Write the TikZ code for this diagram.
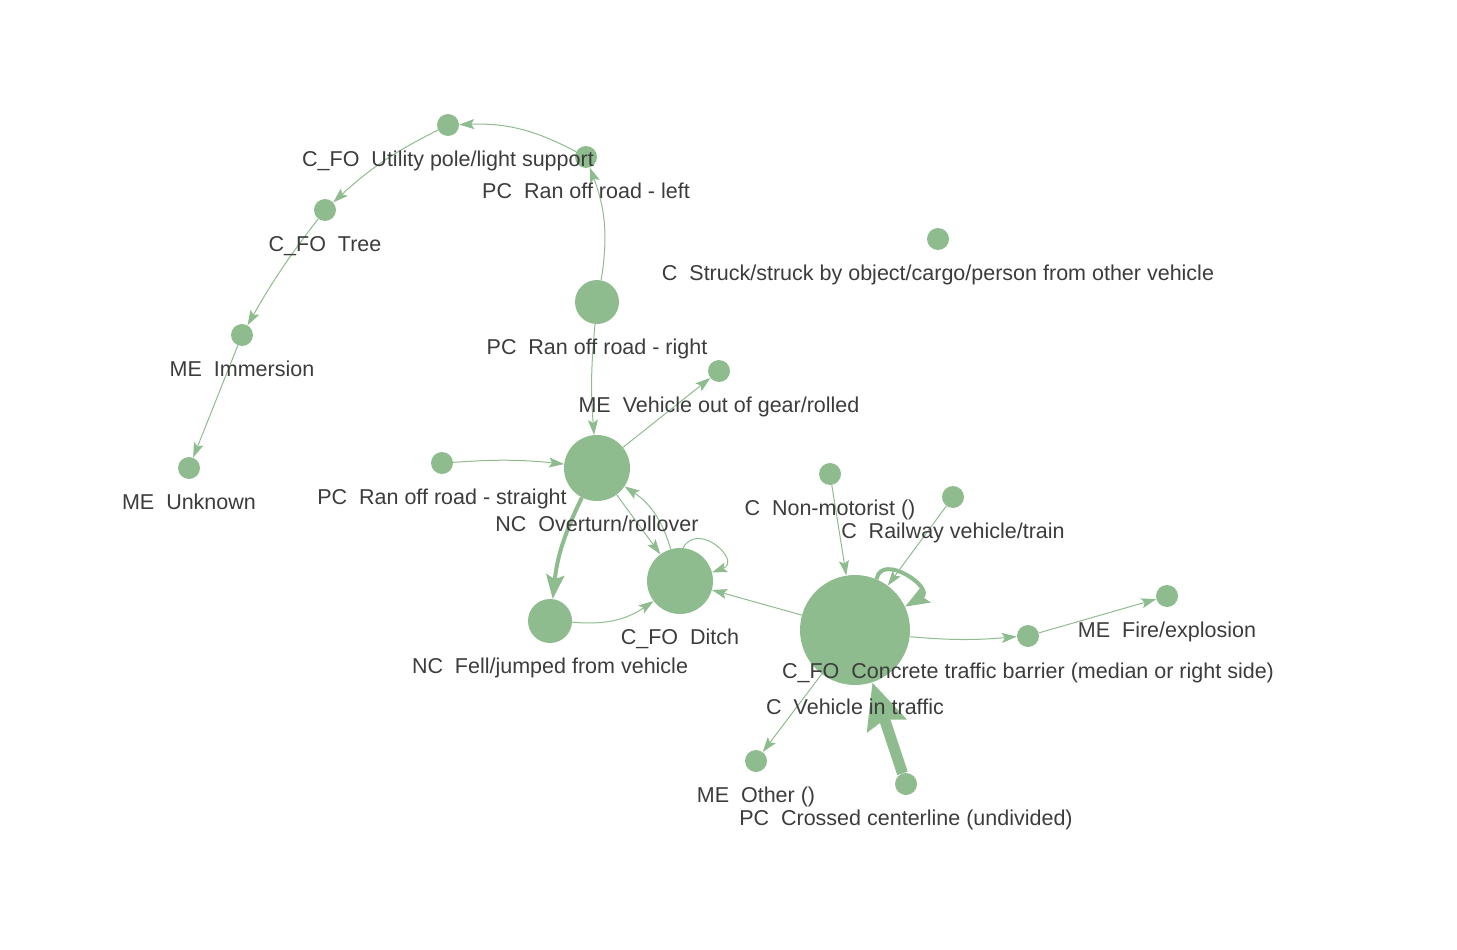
\documentclass[tikz,border=0pt]{standalone}
\usepackage{fontspec}
\setmainfont{Liberation Sans}
\usetikzlibrary{arrows.meta}
\definecolor{ng}{RGB}{143,188,143}
\definecolor{lg}{RGB}{60,60,60}
\tikzset{
  nd/.style={circle,fill=ng,draw=none,inner sep=0pt},
  sm/.style={nd,minimum size=22pt},
  md/.style={nd,minimum size=44pt},
  bg/.style={nd,minimum size=66pt},
  hg/.style={nd,minimum size=110pt},
  lab/.style={anchor=base,inner sep=0pt,text=lg,font=\fontsize{21.5}{26}\selectfont},
  thin/.style={draw=ng,line width=1pt,-{Stealth[length=15pt,width=10pt,inset=3pt]}},
  midw/.style={draw=ng,line width=4pt,-{Stealth[length=24pt,width=18pt,inset=4pt]}},
  thk/.style={draw=ng,line width=11pt,-{Stealth[length=45pt,width=40pt,inset=6pt]}}
}
\begin{document}
\begin{tikzpicture}[x=1pt,y=1pt]
\useasboundingbox (0,0) rectangle (1457,-950);
% nodes
\node[sm] (UP) at (448,-125) {};
\node[sm] (ROL) at (586,-157) {};
\node[sm] (TR) at (325,-210) {};
\node[sm] (IM) at (242,-335) {};
\node[sm] (UN) at (189,-468) {};
\node[md] (ROR) at (597,-302) {};
\node[sm] (VOG) at (719,-371) {};
\node[sm] (STR) at (938,-239) {};
\node[bg] (OV) at (597,-468) {};
\node[sm] (ROS) at (442,-463) {};
\node[md] (FJ) at (550,-621) {};
\node[bg] (DI) at (680,-581) {};
\node[sm] (NM) at (830,-474) {};
\node[sm] (RW) at (953,-497) {};
\node[hg] (VT) at (855,-630) {};
\node[sm] (CB) at (1028,-636) {};
\node[sm] (FE) at (1167,-596) {};
\node[sm] (OT) at (756,-761) {};
\node[sm] (CC) at (906,-784) {};
% edges
\draw[thin] (ROL) to[bend right=15] (UP);
\draw[thin] (UP) to[bend right=8] (TR);
\draw[thin] (TR) to[bend right=4] (IM);
\draw[thin] (IM) -- (UN);
\draw[thin] (ROR) to[bend right=15] (ROL);
\draw[thin] (ROR) to[bend right=5] (OV);
\draw[thin] (OV) -- (VOG);
\draw[thin] (ROS) to[bend left=5] (OV);
\draw[midw] (OV) to[bend right=10] (FJ);
\draw[thin] (OV) -- (DI);
\draw[thin] (DI) to[bend right=20] (OV);
\draw[thin] (FJ) to[bend right=20] (DI);
\draw[thin] (DI.85) .. controls +(60:32) and +(20:32) .. (DI.15);
\draw[thin] (VT) -- (DI);
\draw[thin] (NM) -- (VT);
\draw[thin] (RW) -- (VT);
\draw[midw] (VT.67) .. controls +(80:28) and +(30:36) .. (VT.25);
\draw[thin] (VT) to[bend right=5] (CB);
\draw[thin] (CB) -- (FE);
\draw[thin] (VT) -- (OT);
\draw[thk] (CC) -- (VT);
% labels
\node[lab] (lUP) at (448,-166.5) {C\_FO~~Utility pole/light support};
\node[lab] (lROL) at (586,-198.5) {PC~~Ran off road - left};
\node[lab] (lTR) at (325,-251.5) {C\_FO~~Tree};
\node[lab] (lIM) at (242,-376.5) {ME~~Immersion};
\node[lab] (lUN) at (189,-509.5) {ME~~Unknown};
\node[lab] (lROR) at (597,-354.5) {PC~~Ran off road - right};
\node[lab] (lVOG) at (719,-412.5) {ME~~Vehicle out of gear/rolled};
\node[lab] (lSTR) at (938,-280.5) {C~~Struck/struck by object/cargo/person from other vehicle};
\node[lab] (lOV) at (597,-531.5) {NC~~Overturn/rollover};
\node[lab] (lROS) at (442,-504.5) {PC~~Ran off road - straight};
\node[lab] (lFJ) at (550,-673.5) {NC~~Fell/jumped from vehicle};
\node[lab] (lDI) at (680,-644.5) {C\_FO~~Ditch};
\node[lab] (lNM) at (830,-515.5) {C~~Non-motorist ()};
\node[lab] (lRW) at (953,-538.5) {C~~Railway vehicle/train};
\node[lab] (lVT) at (855,-714.5) {C~~Vehicle in traffic};
\node[lab] (lCB) at (1028,-678.5) {C\_FO~~Concrete traffic barrier (median or right side)};
\node[lab] (lFE) at (1167,-637.5) {ME~~Fire/explosion};
\node[lab] (lOT) at (756,-802.5) {ME~~Other ()};
\node[lab] (lCC) at (906,-825.5) {PC~~Crossed centerline (undivided)};
\end{tikzpicture}
\end{document}
